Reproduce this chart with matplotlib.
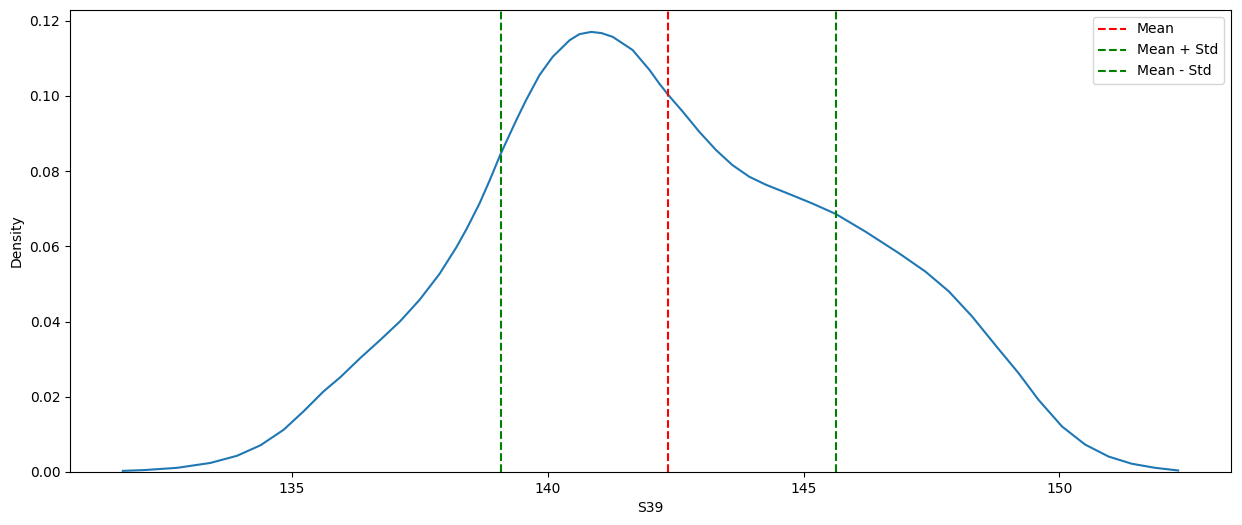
import numpy as np
import matplotlib
matplotlib.use("Agg")
import matplotlib.pyplot as plt

# density curve of S39
s39_x = [131.70, 132.11, 132.76, 133.41, 133.93, 134.39, 134.84, 135.23, 135.62, 135.95,
         136.34, 136.73, 137.12, 137.50, 137.89, 138.22, 138.42, 138.67, 138.87, 139.08,
         139.26, 139.39, 139.58, 139.84, 140.10, 140.43, 140.62, 140.85, 141.05, 141.27,
         141.66, 141.99, 142.18, 142.36, 142.64, 142.96, 143.29, 143.61, 143.94, 144.26,
         144.72, 145.17, 145.63, 146.21, 146.86, 147.38, 147.84, 148.29, 148.81, 149.20,
         149.59, 150.05, 150.50, 150.96, 151.41, 151.87, 152.32]
s39_density = [0.0003, 0.0005, 0.0011, 0.0024, 0.0043, 0.0071, 0.0112, 0.0161, 0.0214, 0.0252,
               0.0303, 0.0351, 0.0401, 0.0458, 0.0527, 0.0598, 0.0647, 0.0714, 0.0776, 0.0845,
               0.0898, 0.0936, 0.0989, 0.1055, 0.1104, 0.1148, 0.1164, 0.1170, 0.1167, 0.1157,
               0.1122, 0.1069, 0.1033, 0.1002, 0.0958, 0.0905, 0.0856, 0.0816, 0.0785, 0.0764,
               0.0739, 0.0714, 0.0686, 0.0639, 0.0582, 0.0533, 0.0480, 0.0414, 0.0327, 0.0263,
               0.0192, 0.0121, 0.0073, 0.0041, 0.0022, 0.0011, 0.0004]

mean = 142.36
std = 3.27

fig, ax = plt.subplots(figsize=(12.42, 5.25), dpi=100)
fig.subplots_adjust(left=0.0564, right=0.9911, top=0.981, bottom=0.101)

ax.plot(s39_x, s39_density, color='#1f77b4', linewidth=1.5)
ax.axvline(mean, color='red', linestyle='--', label='Mean')
ax.axvline(mean + std, color='green', linestyle='--', label='Mean + Std')
ax.axvline(mean - std, color='green', linestyle='--', label='Mean - Std')

ax.set_ylim(bottom=0)
ax.set_xlabel('S39')
ax.set_ylabel('Density')
ax.legend(loc='upper right')

fig.savefig('out.png', dpi=100)
